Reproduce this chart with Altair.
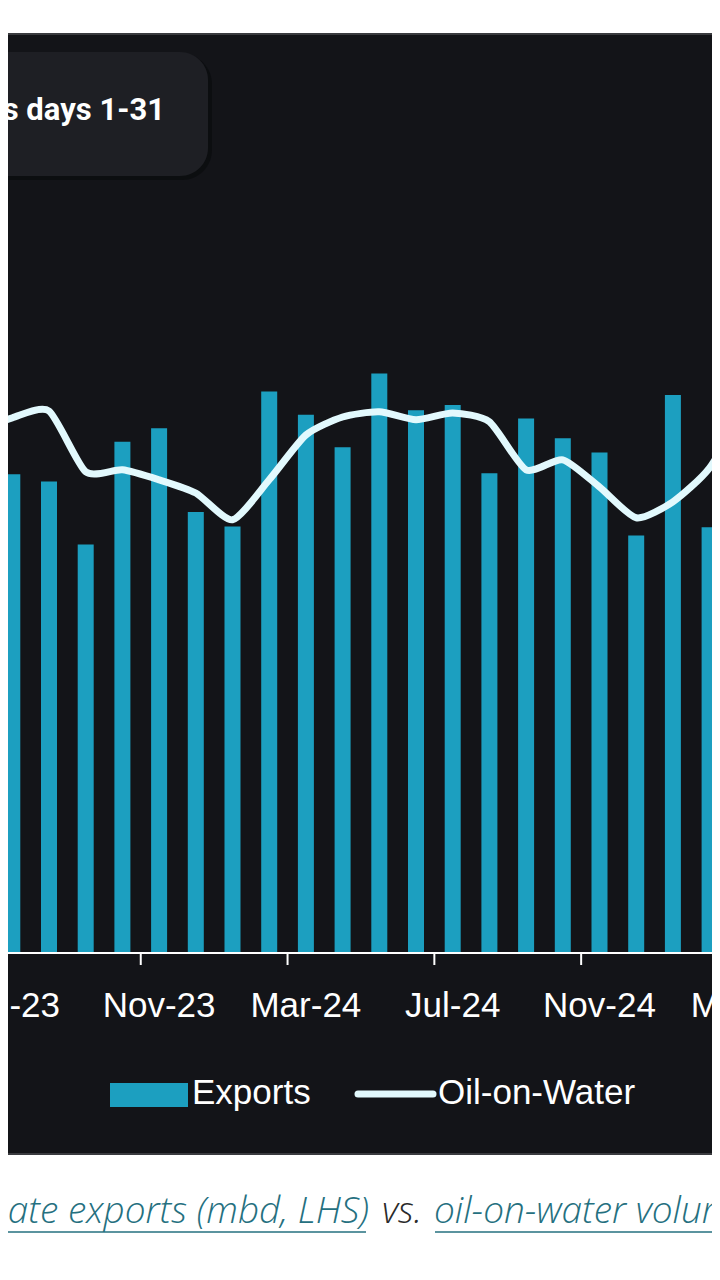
import altair as alt
import pandas as pd

# ---------------- data ----------------
months = ["Jun-23", "Jul-23", "Aug-23", "Sep-23", "Oct-23", "Nov-23", "Dec-23",
          "Jan-24", "Feb-24", "Mar-24", "Apr-24", "May-24", "Jun-24", "Jul-24",
          "Aug-24", "Sep-24", "Oct-24", "Nov-24", "Dec-24", "Jan-25", "Feb-25", "Mar-25"]
# Exports (mbd, LHS) - Jun-23 and Mar-25 bars lie outside the visible crop
exports = [None, 5.32, 5.24, 4.54, 5.68, 5.83, 4.90,
           4.74, 6.24, 5.98, 5.62, 6.44, 6.03, 6.09,
           5.33, 5.94, 5.72, 5.56, 4.64, 6.20, 4.73, None]
# Oil-on-water volume (RHS)
oil_on_water = [130.3, 133.8, 135.5, 120.3, 120.8, 118.3, 115.0,
                108.3, 118.3, 129.5, 134.0, 135.3, 133.3, 135.0,
                132.8, 120.8, 123.3, 116.5, 108.8, 112.8, 121.3, 137.0]
label_months = ["Jul-23", "Nov-23", "Mar-24", "Jul-24", "Nov-24", "Mar-25"]
tick_months = ["Nov-23", "Mar-24", "Jul-24", "Nov-24"]
legend_labels = ["Exports", "Oil-on-Water"]
box_text = "ts days 1-31"
caption_link1 = "ate exports (mbd, LHS)"
caption_mid = "vs."
caption_link2 = "oil-on-water volumes"

# ---------------- styling ----------------
TEAL = "#1c9fc0"
LINE = "#e2f9fd"
PANEL = "#131418"
BOX = "#1e1f24"
LINK = "#25707f"
FONT = "Liberation Sans"
W, H = 704, 1122

idx_of = {m: i - 1 for i, m in enumerate(months)}
df = pd.DataFrame({"month": months, "idx": [idx_of[m] for m in months],
                   "exports": exports, "oow": oil_on_water})
lab_df = pd.DataFrame({"month": label_months, "idx": [idx_of[m] for m in label_months]})
tick_df = pd.DataFrame({"t": [idx_of[m] - 0.5 for m in tick_months]})
one = pd.DataFrame({"a": [0]})

xsc = alt.Scale(domain=[-0.1172, 19.0654], nice=False, zero=False, padding=0)
ysc_e = alt.Scale(domain=[-202 / 90, 920 / 90], nice=False, zero=False, padding=0)
ysc_o = alt.Scale(domain=[-202 / 4, 920 / 4], nice=False, zero=False, padding=0)

base1 = alt.Chart(one)

shadow = base1.mark_rect(color="#0b0c0f", opacity=0.8, cornerRadius=30).encode(
    x=alt.value(-40), x2=alt.value(204), y=alt.value(21), y2=alt.value(147))
box = base1.mark_rect(color=BOX, cornerRadius=28).encode(
    x=alt.value(-40), x2=alt.value(200), y=alt.value(19), y2=alt.value(143))
box_txt = base1.mark_text(font="Roboto", fontSize=31, fontWeight="bold", color="white",
                          align="right", baseline="alphabetic").encode(
    x=alt.value(157), y=alt.value(87), text=alt.value(box_text))

bars = alt.Chart(df).transform_filter("isValid(datum.exports)").mark_bar(
    size=16, orient="vertical", color=TEAL).encode(
    x=alt.X("idx:Q", scale=xsc, axis=None),
    y=alt.Y("exports:Q", scale=ysc_e, axis=None),
    y2=alt.datum(0))

line = alt.Chart(df).mark_line(interpolate="cardinal", tension=0.35, strokeWidth=7,
                               color=LINE, strokeCap="round", strokeJoin="round").encode(
    x=alt.X("idx:Q", scale=xsc, axis=None),
    y=alt.Y("oow:Q", scale=ysc_o, axis=None))

axis_line = base1.mark_rule(color="white", strokeWidth=2).encode(
    x=alt.value(0), x2=alt.value(W),
    y=alt.Y(datum=0, scale=ysc_e, axis=None))

ticks = alt.Chart(tick_df).mark_rule(color="white", strokeWidth=2).encode(
    x=alt.X("t:Q", scale=xsc, axis=None), y=alt.value(920), y2=alt.value(932))

labels = alt.Chart(lab_df).mark_text(font=FONT, fontSize=35, color="white",
                                     align="center", baseline="alphabetic").encode(
    x=alt.X("idx:Q", scale=xsc, axis=None), y=alt.value(984), text="month:N")

leg_rect = base1.mark_rect(color=TEAL).encode(
    x=alt.value(102), x2=alt.value(180), y=alt.value(1050), y2=alt.value(1074))
leg_t1 = base1.mark_text(font=FONT, fontSize=35, color="white", align="left",
                         baseline="alphabetic").encode(
    x=alt.value(184), y=alt.value(1071), text=alt.value(legend_labels[0]))
leg_line = base1.mark_rule(color=LINE, strokeWidth=7, strokeCap="round").encode(
    x=alt.value(350), x2=alt.value(425), y=alt.value(1061))
leg_t2 = base1.mark_text(font=FONT, fontSize=35, color="white", align="left",
                         baseline="alphabetic").encode(
    x=alt.value(430), y=alt.value(1071), text=alt.value(legend_labels[1]))

border_top = base1.mark_rule(color="#3a3b3f", strokeWidth=2).encode(
    x=alt.value(0), x2=alt.value(W), y=alt.value(1))
border_bot = base1.mark_rule(color="#3a3b3f", strokeWidth=2).encode(
    x=alt.value(0), x2=alt.value(W), y=alt.value(H - 1))

cap_kw = dict(font="Open Sans", fontSize=37, fontStyle="italic", fontWeight=300,
              baseline="alphabetic")
cap1 = base1.mark_text(color=LINK, align="right", **cap_kw).encode(
    x=alt.value(361), y=alt.value(1190), text=alt.value(caption_link1))
cap2 = base1.mark_text(color="#2a2a2a", align="left", **cap_kw).encode(
    x=alt.value(374), y=alt.value(1190), text=alt.value(caption_mid))
cap3 = base1.mark_text(color=LINK, align="left", **cap_kw).encode(
    x=alt.value(426), y=alt.value(1190), text=alt.value(caption_link2))
ul1 = base1.mark_rule(color=LINK, strokeWidth=1.5).encode(
    x=alt.value(-10), x2=alt.value(358), y=alt.value(1199))
ul2 = base1.mark_rule(color=LINK, strokeWidth=1.5).encode(
    x=alt.value(427), x2=alt.value(W), y=alt.value(1199))

chart = alt.layer(
    shadow, box, box_txt, bars, line, axis_line, ticks, labels,
    leg_rect, leg_t1, leg_line, leg_t2, border_top, border_bot,
    cap1, cap2, cap3, ul1, ul2
).resolve_scale(y="independent").properties(
    width=W, height=H,
    autosize=alt.AutoSizeParams(type="none"),
    padding={"left": 0, "right": 0, "top": 25, "bottom": 90},
).configure(background="white").configure_view(fill=PANEL, stroke=None)

chart.save("out.html", embed_options={"renderer": "svg", "actions": False})
